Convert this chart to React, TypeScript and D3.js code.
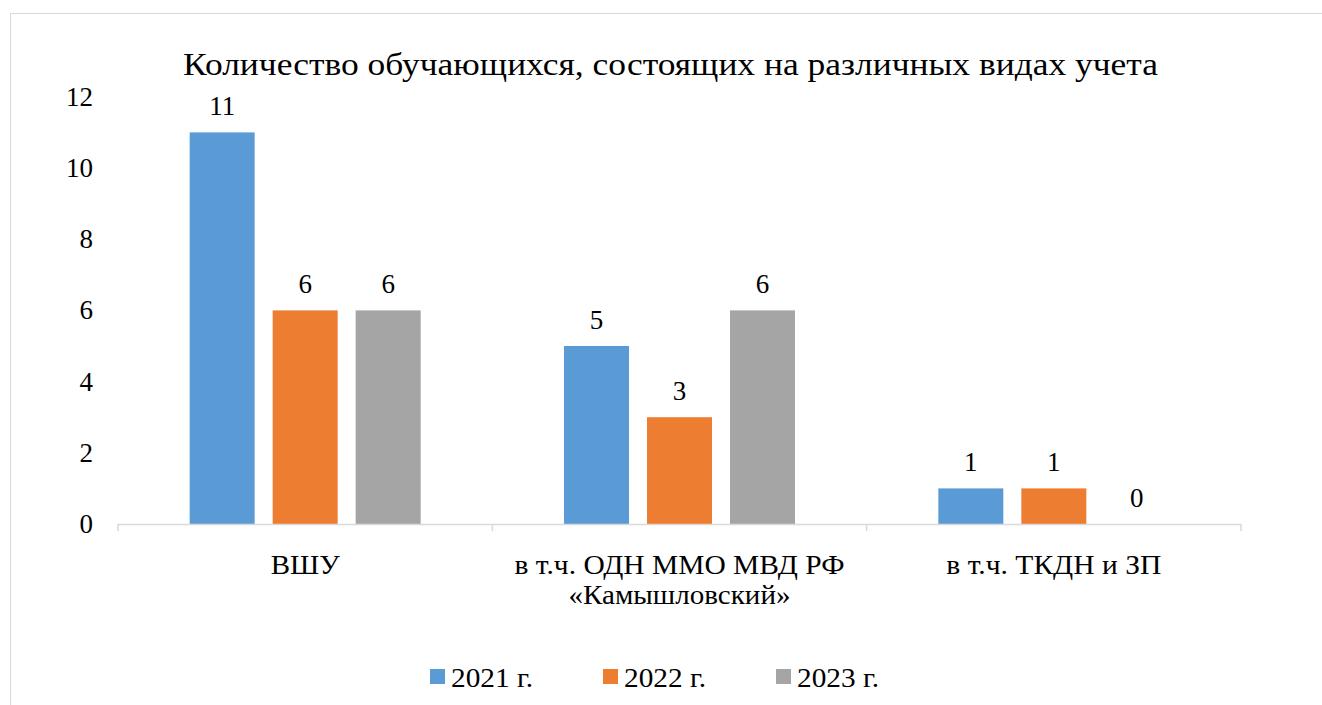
import React from "react";
import * as d3 from "d3";

const categories = ["ВШУ", "в т.ч. ОДН ММО МВД РФ\n«Камышловский»", "в т.ч. ТКДН и ЗП"];
const categoryWidths = [[69], [330, 222], [215]];
const seriesNames = ["2021 г.", "2022 г.", "2023 г."];
const values2021 = [11, 5, 1];
const values2022 = [6, 3, 1];
const values2023 = [6, 6, 0];
const colors = ["#5b9bd5", "#ed7d31", "#a5a5a5"];
const yTicks = [0, 2, 4, 6, 8, 10, 12];
const title = "Количество обучающихся, состоящих на различных видах учета";

const F = "Tinos, 'Liberation Serif', 'Times New Roman', serif";
const ts = (size: number): React.CSSProperties => ({ fontFamily: F, fontSize: size + "px" });

export default function App() {
  const W = 1322, H = 705;
  const x0 = d3.scaleBand().domain(categories).range([118, 1241]).paddingInner(0).paddingOuter(0);
  const y = d3.scaleLinear().domain([0, 12]).range([524, 96.8]);
  const series = [values2021, values2022, values2023];
  const bw = 65, step = 83;
  const legendX = [430, 603, 776];
  return (
    <svg width={W} height={H} style={{ position: "absolute", left: 0, top: 0 }}>
      <rect x={0} y={0} width={W} height={H} fill="#fff" />
      <rect x={10.5} y={13.5} width={1330} height={720} fill="none" stroke="#d9d9d9" strokeWidth={1} />
      <text x={183} y={75} style={ts(32)} textLength={975} lengthAdjust="spacingAndGlyphs" fill="#000">{title}</text>
      {yTicks.map(t => (
        <text key={t} x={93} y={y(t) + 9} textAnchor="end" style={ts(27)} fill="#000">{t}</text>
      ))}
      {series.map((vals, si) => vals.map((v, ci) => {
        const c = x0(categories[ci])! + x0.bandwidth() / 2;
        const bx = c + (si - 1) * step - bw / 2;
        return (
          <g key={`${si}-${ci}`}>
            {v > 0 && <rect x={bx} y={y(v)} width={bw} height={y(0) - y(v)} fill={colors[si]} />}
            <text x={bx + bw / 2} y={y(v) - 17.5} textAnchor="middle" style={ts(27)} fill="#000">{v}</text>
          </g>
        );
      }))}
      <line x1={118} x2={1241} y1={524.5} y2={524.5} stroke="#d9d9d9" strokeWidth={1.5} />
      {[0, 1, 2, 3].map(i => {
        const xx = 118 + i * x0.bandwidth();
        return <line key={i} x1={xx} x2={xx} y1={524} y2={531} stroke="#d9d9d9" strokeWidth={1.5} />;
      })}
      {categories.map((c, ci) => {
        const lines = c.split("\n");
        const cx = x0(c)! + x0.bandwidth() / 2;
        return lines.map((l, i) => {
          const w = categoryWidths[ci][i];
          return (
            <text key={c + i} x={cx - w / 2} y={574 + i * 30} style={ts(27)}
              textLength={w} lengthAdjust="spacingAndGlyphs" fill="#000">{l}</text>
          );
        });
      })}
      {seriesNames.map((s, i) => {
        const lx = legendX[i];
        return (
          <g key={s}>
            <rect x={lx} y={669} width={15} height={15} fill={colors[i]} />
            <text x={lx + 21} y={687} style={ts(28)} textLength={82} lengthAdjust="spacingAndGlyphs" fill="#000">{s}</text>
          </g>
        );
      })}
    </svg>
  );
}
